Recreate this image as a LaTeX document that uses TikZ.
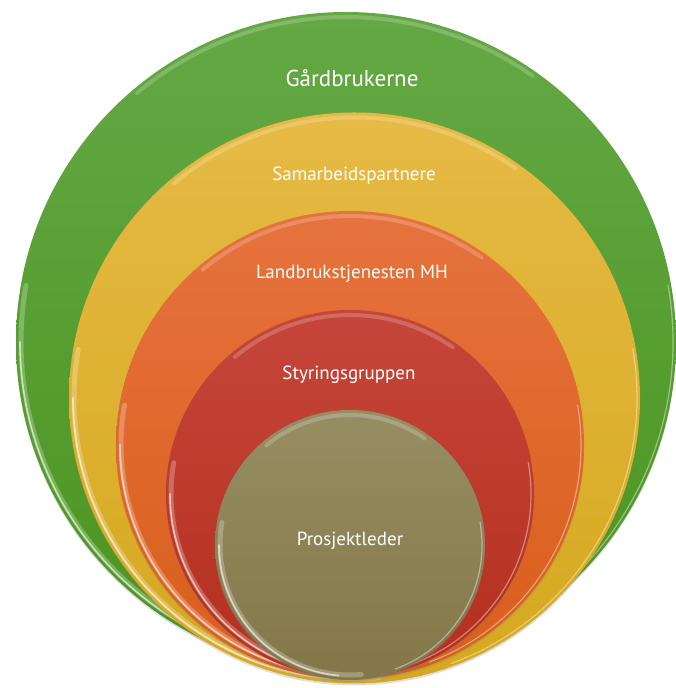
\documentclass[tikz,border=0pt]{standalone}
\usepackage{fontspec}
\setmainfont{PT Sans}
\usetikzlibrary{shadows,calc}
\definecolor{gtop}{HTML}{64A845}
\definecolor{gbot}{HTML}{4A941E}
\definecolor{ytop}{HTML}{E6BA45}
\definecolor{ybot}{HTML}{D5A81E}
\definecolor{otop}{HTML}{E6723E}
\definecolor{obot}{HTML}{D85E1A}
\definecolor{rtop}{HTML}{C6463B}
\definecolor{rbot}{HTML}{B32F1E}
\definecolor{btop}{HTML}{968E63}
\definecolor{bbot}{HTML}{837749}
\tikzset{
  disk/.style={circle, inner sep=0pt, outer sep=0pt, draw=none},
  lbl/.style={text=white, inner sep=1pt},
}
\newcommand\mydisk[6]{% name, x, y, r, top, bottom
  \node[disk, minimum size=#4*2pt, top color=#5, bottom color=#6,
        drop shadow={opacity=0.25, shadow xshift=0pt, shadow yshift=-2pt}] (#1) at (#2,#3) {};
  \draw[white, opacity=0.25, line width=5pt, line cap=round]
     ([shift={(170:#4-5)}]#1.center) arc[start angle=170, end angle=275, radius=#4-5];
  \draw[white, opacity=0.6, line width=1.6pt, line cap=round]
     ([shift={(180:#4-4)}]#1.center) arc[start angle=180, end angle=265, radius=#4-4];
  \draw[white, opacity=0.4, line width=1.2pt, line cap=round]
     ([shift={(290:#4-3)}]#1.center) arc[start angle=290, end angle=370, radius=#4-3];
  \draw[white, opacity=0.2, line width=4pt, line cap=round]
     ([shift={(55:#4-5)}]#1.center) arc[start angle=55, end angle=130, radius=#4-5];
}
\begin{document}
\begin{tikzpicture}[x=1pt,y=1pt]
\useasboundingbox (0,0) rectangle (676,688);
\mydisk{g}{346}{346}{330}{gtop}{gbot}
\mydisk{y}{354.5}{290}{285.5}{ytop}{ybot}
\mydisk{o}{350}{243}{234}{otop}{obot}
\mydisk{r}{350}{194}{184}{rtop}{rbot}
\mydisk{b}{350}{143}{135}{btop}{bbot}
\node[lbl, font=\fontsize{23}{26}\selectfont] (tg) at (352,610) {Gårdbrukerne};
\node[lbl, font=\fontsize{19}{22}\selectfont] (ty) at (354,512) {Samarbeidspartnere};
\node[lbl, font=\fontsize{19}{22}\selectfont] (to) at (352,414) {Landbrukstjenesten MH};
\node[lbl, font=\fontsize{19}{22}\selectfont] (tr) at (349,313) {Styringsgruppen};
\node[lbl, font=\fontsize{19}{22}\selectfont] (tb) at (350,147) {Prosjektleder};
\end{tikzpicture}
\end{document}
